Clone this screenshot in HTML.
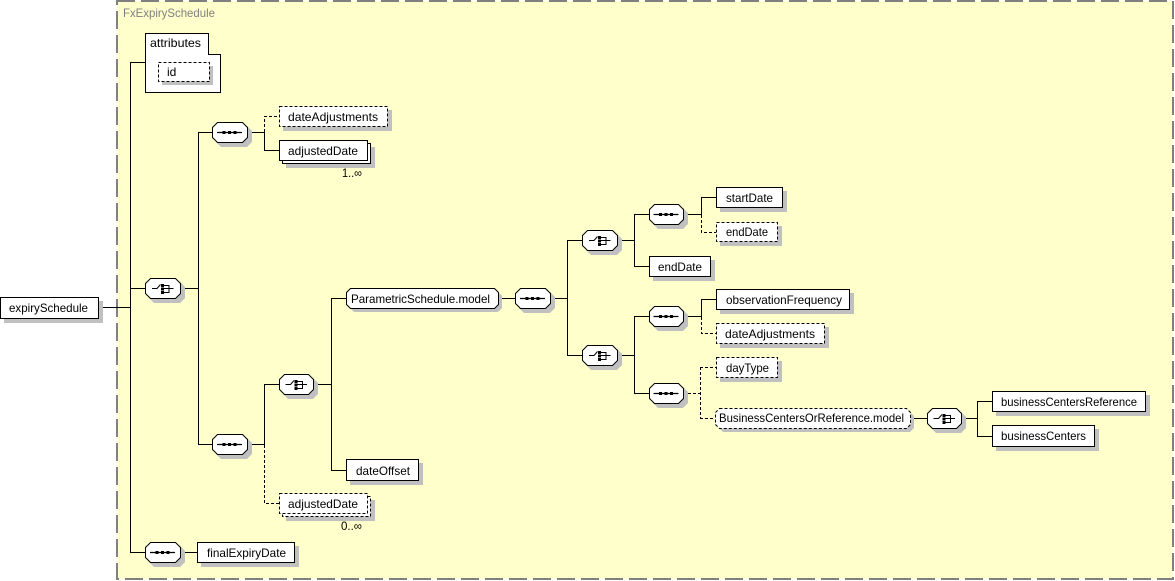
<!DOCTYPE html>
<html><head><meta charset="utf-8"><style>
html,body{margin:0;padding:0;background:#fff;}
svg{display:block;}
text{font-family:"Liberation Sans","DejaVu Sans",sans-serif;font-size:12px;fill:#000;}
</style></head><body>
<svg width="1175" height="581" viewBox="0 0 1175 581" xmlns="http://www.w3.org/2000/svg">
<defs>
<g id="seq">
<path d="M-12.5,0.5H12.5" stroke="#000" stroke-width="1.2"/>
<rect x="-7" y="-1" width="3" height="3" fill="#000"/>
<rect x="-1.5" y="-1" width="3" height="3" fill="#000"/>
<rect x="4" y="-1" width="3" height="3" fill="#000"/>
</g>
<g id="cho" fill="none" stroke="#000" stroke-width="1">
<path d="M-10.5,0.5H-5.5L-2,-3.5"/>
<rect x="-1.5" y="-4" width="3" height="3" fill="#000" stroke="none"/>
<rect x="-1.5" y="-0.5" width="3" height="3" fill="#000" stroke="none"/>
<rect x="-1.5" y="3" width="3" height="3" fill="#000" stroke="none"/>
<path d="M1,-2.5H6.5V4.5H1M1,0.5H11"/>
</g>
</defs>

<!-- outer group box -->
<rect x="117" y="1" width="1056" height="578" fill="#FFFFCC" stroke="#808080" stroke-width="2" stroke-dasharray="18,6"/>
<text x="123" y="17" style="fill:#808080" textLength="92" lengthAdjust="spacingAndGlyphs">FxExpirySchedule</text>

<!-- connectors solid -->
<g stroke="#000" stroke-width="1" fill="none">
<path d="M99,307.5H130.5"/>
<path d="M130.5,62V552.5"/>
<path d="M130,62.5H145"/>
<path d="M130,288.5H145"/>
<path d="M180,288.5H198.5"/>
<path d="M198.5,132V444.5"/>
<path d="M198,132.5H212M198,444.5H212"/>
<path d="M247,132.5H264.5V150.5H279"/>
<path d="M247,444.5H264.5V384.5H279"/>
<path d="M313,384.5H331.5"/>
<path d="M331.5,298V470.5"/>
<path d="M331,298.5H346M331,470.5H346"/>
<path d="M130,552.5H145M180,552.5H197"/>
<path d="M498,298.5H515M550,298.5H567.5"/>
<path d="M567.5,240V355.5"/>
<path d="M567,240.5H582M567,355.5H582"/>
<path d="M617,240.5H634.5M634.5,214V266.5"/>
<path d="M634,214.5H649M634,266.5H649"/>
<path d="M683,214.5H701.5V197.5H716"/>
<path d="M617,355.5H634.5M634.5,316V393.5"/>
<path d="M634,316.5H649M634,393.5H649"/>
<path d="M683,316.5H701.5V299.5H716"/>
<path d="M910,418.5H927M961,418.5H977.5"/>
<path d="M977.5,401V436.5"/>
<path d="M977,401.5H992M977,436.5H992"/>
</g>
<!-- connectors dashed -->
<g stroke="#000" stroke-width="1" fill="none" stroke-dasharray="3,2">
<path d="M264.5,132V116.5H279"/>
<path d="M264.5,445V503.5H279"/>
<path d="M701.5,215V232.5H716"/>
<path d="M701.5,317V333.5H716"/>
<path d="M683,393.5H700.5"/>
<path d="M700.5,367V418.5"/>
<path d="M700,367.5H716M700,418.5H715"/>
</g>

<!-- attributes -->
<path d="M145.5,33.5H208.5V54.5H220.5V92.5H145.5Z" fill="#fff" stroke="#000"/>
<text x="150" y="47" textLength="51" lengthAdjust="spacingAndGlyphs">attributes</text>
<rect x="162" y="66" width="51" height="19" fill="#c0c0c0"/>
<rect x="158.5" y="62.5" width="51" height="19" fill="#fff" stroke="#000" stroke-dasharray="3,2"/>
<text x="167" y="76">id</text>

<!-- element shadows + boxes -->
<g fill="#c0c0c0">
<rect x="4" y="301" width="99" height="22"/>
<rect x="283" y="110" width="109" height="21"/>
<rect x="286" y="147" width="89" height="21"/>
<rect x="286" y="500" width="89" height="21"/>
<rect x="350" y="463" width="73" height="22"/>
<rect x="201" y="546" width="98" height="21"/>
<rect x="720" y="191" width="67" height="21"/>
<rect x="720" y="226" width="62" height="20"/>
<rect x="653" y="260" width="62" height="21"/>
<rect x="720" y="293" width="134" height="21"/>
<rect x="720" y="327" width="109" height="21"/>
<rect x="720" y="361" width="62" height="21"/>
<rect x="996" y="395" width="154" height="21"/>
<rect x="996" y="429" width="103" height="22"/>
</g>
<g fill="#fff" stroke="#000" stroke-width="1">
<rect x="0.5" y="297.5" width="98" height="21"/>
<rect x="279.5" y="106.5" width="108" height="20" stroke-dasharray="3,2"/>
<rect x="282.5" y="143.5" width="88" height="20"/>
<rect x="279.5" y="140.5" width="88" height="20"/>
<rect x="282.5" y="496.5" width="88" height="20" stroke-dasharray="3,2"/>
<rect x="279.5" y="493.5" width="88" height="20" stroke-dasharray="3,2"/>
<rect x="346.5" y="459.5" width="72" height="21"/>
<rect x="197.5" y="542.5" width="97" height="20"/>
<rect x="716.5" y="187.5" width="66" height="20"/>
<rect x="716.5" y="222.5" width="61" height="19" stroke-dasharray="3,2"/>
<rect x="649.5" y="256.5" width="61" height="20"/>
<rect x="716.5" y="289.5" width="133" height="20"/>
<rect x="716.5" y="323.5" width="108" height="20" stroke-dasharray="3,2"/>
<rect x="716.5" y="357.5" width="61" height="20" stroke-dasharray="3,2"/>
<rect x="992.5" y="391.5" width="153" height="20"/>
<rect x="992.5" y="425.5" width="102" height="21"/>
</g>

<!-- compositor shadows -->
<g fill="#c0c0c0">
<path d="M154,282H180L185,287V298L180,303H154L149,298V287Z"/>
<path d="M221,126H247L252,131V142L247,147H221L216,142V131Z"/>
<path d="M221,438H247L252,443V454L247,459H221L216,454V443Z"/>
<path d="M288,378H313L318,383V394L313,399H288L283,394V383Z"/>
<path d="M154,546H180L185,551V562L180,567H154L149,562V551Z"/>
<path d="M524,292H550L555,297V308L550,313H524L519,308V297Z"/>
<path d="M591,234H617L622,239V250L617,255H591L586,250V239Z"/>
<path d="M658,208H683L688,213V224L683,229H658L653,224V213Z"/>
<path d="M591,349H617L622,354V365L617,370H591L586,365V354Z"/>
<path d="M658,310H683L688,315V326L683,331H658L653,326V315Z"/>
<path d="M658,387H683L688,392V403L683,408H658L653,403V392Z"/>
<path d="M936,412H961L966,417V428L961,433H936L931,428V417Z"/>
<path d="M354,292H498L502,296V308L498,312H354L350,308V296Z"/>
<path d="M723,412H910L914,416V428L910,432H723L719,428V416Z"/>
</g>
<!-- compositors -->
<g fill="#fff" stroke="#000" stroke-width="1">
<path d="M150.5,278.5H175.5L180.5,283.5V293.5L175.5,298.5H150.5L145.5,293.5V283.5Z"/>
<path d="M217.5,122.5H242.5L247.5,127.5V137.5L242.5,142.5H217.5L212.5,137.5V127.5Z"/>
<path d="M217.5,434.5H242.5L247.5,439.5V449.5L242.5,454.5H217.5L212.5,449.5V439.5Z"/>
<path d="M284.5,374.5H308.5L313.5,379.5V389.5L308.5,394.5H284.5L279.5,389.5V379.5Z"/>
<path d="M150.5,542.5H175.5L180.5,547.5V557.5L175.5,562.5H150.5L145.5,557.5V547.5Z"/>
<path d="M520.5,288.5H545.5L550.5,293.5V303.5L545.5,308.5H520.5L515.5,303.5V293.5Z"/>
<path d="M587.5,230.5H612.5L617.5,235.5V245.5L612.5,250.5H587.5L582.5,245.5V235.5Z"/>
<path d="M654.5,204.5H678.5L683.5,209.5V219.5L678.5,224.5H654.5L649.5,219.5V209.5Z"/>
<path d="M587.5,345.5H612.5L617.5,350.5V360.5L612.5,365.5H587.5L582.5,360.5V350.5Z"/>
<path d="M654.5,306.5H678.5L683.5,311.5V321.5L678.5,326.5H654.5L649.5,321.5V311.5Z"/>
<path d="M654.5,383.5H678.5L683.5,388.5V398.5L678.5,403.5H654.5L649.5,398.5V388.5Z"/>
<path d="M932.5,408.5H956.5L961.5,413.5V423.5L956.5,428.5H932.5L927.5,423.5V413.5Z"/>
<path d="M350.5,288.5H494.5L498.5,292.5V304.5L494.5,308.5H350.5L346.5,304.5V292.5Z"/>
<path d="M719.5,408.5H906.5L910.5,412.5V424.5L906.5,428.5H719.5L715.5,424.5V412.5Z" stroke-dasharray="3,2"/>
</g>

<!-- compositor icons -->
<use href="#cho" x="162.5" y="288"/>
<use href="#seq" x="229.5" y="132"/>
<use href="#seq" x="229.5" y="444"/>
<use href="#cho" x="296" y="384"/>
<use href="#seq" x="162.5" y="552"/>
<use href="#seq" x="532.5" y="298"/>
<use href="#cho" x="599.5" y="240"/>
<use href="#seq" x="666" y="214"/>
<use href="#cho" x="599.5" y="355"/>
<use href="#seq" x="666" y="316"/>
<use href="#seq" x="666" y="393"/>
<use href="#cho" x="944" y="418"/>

<!-- labels -->
<text x="9" y="312" textLength="79" lengthAdjust="spacingAndGlyphs">expirySchedule</text>
<text x="288" y="121" textLength="90" lengthAdjust="spacingAndGlyphs">dateAdjustments</text>
<text x="288" y="155" textLength="70" lengthAdjust="spacingAndGlyphs">adjustedDate</text>
<text x="342" y="177" textLength="20" lengthAdjust="spacingAndGlyphs">1..∞</text>
<text x="351" y="303" textLength="139" lengthAdjust="spacingAndGlyphs">ParametricSchedule.model</text>
<text x="356" y="475" textLength="54" lengthAdjust="spacingAndGlyphs">dateOffset</text>
<text x="288" y="508" textLength="70" lengthAdjust="spacingAndGlyphs">adjustedDate</text>
<text x="341" y="530" textLength="21" lengthAdjust="spacingAndGlyphs">0..∞</text>
<text x="207" y="557" textLength="79" lengthAdjust="spacingAndGlyphs">finalExpiryDate</text>
<text x="726" y="202" textLength="47" lengthAdjust="spacingAndGlyphs">startDate</text>
<text x="726" y="236" textLength="42" lengthAdjust="spacingAndGlyphs">endDate</text>
<text x="658" y="271" textLength="44" lengthAdjust="spacingAndGlyphs">endDate</text>
<text x="726" y="304" textLength="116" lengthAdjust="spacingAndGlyphs">observationFrequency</text>
<text x="725" y="338" textLength="90" lengthAdjust="spacingAndGlyphs">dateAdjustments</text>
<text x="726" y="372" textLength="43" lengthAdjust="spacingAndGlyphs">dayType</text>
<text x="719" y="422" textLength="185" lengthAdjust="spacingAndGlyphs">BusinessCentersOrReference.model</text>
<text x="1001" y="406" textLength="136" lengthAdjust="spacingAndGlyphs">businessCentersReference</text>
<text x="1001" y="440" textLength="85" lengthAdjust="spacingAndGlyphs">businessCenters</text>
</svg>
</body></html>
